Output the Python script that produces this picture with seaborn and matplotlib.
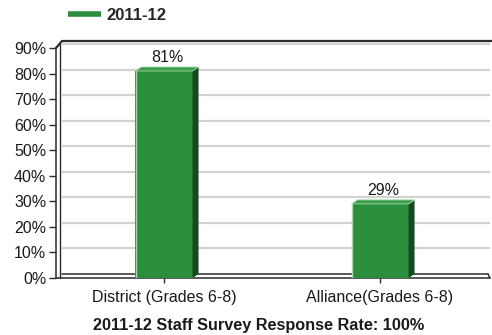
import matplotlib
matplotlib.use("Agg")
import matplotlib.pyplot as plt
from matplotlib.patches import Polygon
from matplotlib.lines import Line2D
import seaborn as sns

# Survey data
schools = ["District (Grades 6-8)", "Alliance(Grades 6-8)"]
rates = [81, 29]
year_label = "2011-12"
title_text = "2011-12 Staff Survey Response Rate: 100%"
y_ticks = [0, 10, 20, 30, 40, 50, 60, 70, 80, 90]

GREEN = "#2a8e3c"
GREEN_TOP = "#3a9c4a"
GREEN_SIDE = "#17481e"
GREEN_EDGE = "#a6d8a8"
FRAME = "#2b2b2b"
GRID = "#d2d2d2"
TEXT = "#1a1a1a"

sns.set_theme(style="white")
plt.rcParams["font.family"] = ["Liberation Sans", "DejaVu Sans"]

W, H = 492, 335
fig = plt.figure(figsize=(W / 100, H / 100), dpi=100)
ax_left, ax_bottom, ax_w, ax_h = 56, 57, 434, 230
ax = fig.add_axes([ax_left / W, ax_bottom / H, ax_w / W, ax_h / H])

sns.barplot(x=schools, y=rates, color=GREEN, saturation=1, width=0.264,
            linewidth=0, ax=ax, zorder=3)

xmin, xmax = -0.5, 1.509
ymin, ymax = 0, 90
ax.set_xlim(xmin, xmax)
ax.set_ylim(ymin, ymax)

# pixel -> data unit conversion for the depth effect
px_x = (xmax - xmin) / ax_w
px_y = (ymax - ymin) / ax_h
dx, dy = 6 * px_x, 4 * px_y

# back-wall gridlines, shifted by the depth offset
for t in y_ticks[1:]:
    ax.plot([xmin + dx, xmax], [t + dy, t + dy], color=GRID, lw=1.6,
            zorder=1, clip_on=False, solid_capstyle="butt")

# floor and frame
ax.plot([xmin + dx, xmax - 2 * px_x], [dy, dy], color=FRAME, lw=1.1, zorder=2, clip_on=False)
ax.plot([xmax - 2 * px_x, xmax], [dy, 0], color=FRAME, lw=1.1, zorder=2, clip_on=False)
ax.plot([xmin + dx * 0.6, xmin + dx * 0.6], [0, ymax + dy], color=FRAME, lw=1.0, zorder=2, clip_on=False)
ax.plot([xmin, xmin + dx, xmax + 2 * px_x], [ymax, ymax + 7 * px_y, ymax + 7 * px_y],
        color=FRAME, lw=1.6, zorder=2, clip_on=False)

# 3D faces for each bar, built from the bar geometry
for patch, val in zip(ax.patches, rates):
    x0 = patch.get_x()
    x1 = x0 + patch.get_width()
    h = patch.get_height()
    side = Polygon([(x1, 0), (x1, h), (x1 + dx, h + dy), (x1 + dx, dy)],
                   closed=True, facecolor=GREEN_SIDE, edgecolor="none", zorder=3)
    top = Polygon([(x0, h), (x1, h), (x1 + dx, h + dy), (x0 + dx, h + dy)],
                  closed=True, facecolor=GREEN_TOP, edgecolor=GREEN_EDGE, lw=0.6, zorder=4)
    ax.add_patch(side)
    ax.add_patch(top)
    ax.plot([x0 + 0.5 * px_x, x0 + 0.5 * px_x], [0, h], color=GREEN_EDGE, lw=1.0, zorder=4)
    ax.annotate(f"{val}%", (x0 + patch.get_width() / 2 + dx / 2, h + dy),
                xytext=(0, 1.5), textcoords="offset points", ha="center", va="bottom",
                fontsize=11.5, color=TEXT, zorder=5)

ax.set_yticks(y_ticks)
ax.set_yticklabels([f"{t}%" for t in y_ticks])
ax.tick_params(axis="y", length=5, width=1.0, color=FRAME, labelsize=11.5,
               labelcolor=TEXT, pad=2, left=True)
ax.tick_params(axis="x", length=3.6, width=1.0, color=FRAME, labelsize=11.5,
               labelcolor=TEXT, pad=5, bottom=True)

for s in ["top", "right"]:
    ax.spines[s].set_visible(False)
for s in ["left", "bottom"]:
    ax.spines[s].set_color(FRAME)
    ax.spines[s].set_linewidth(1.1)
ax.grid(False)
ax.set_xlabel(title_text, fontsize=11.7, fontweight="bold", color=TEXT)
ax.xaxis.set_label_coords(0.468, -0.175)
ax.set_ylabel("")

handle = Line2D([], [], color=GREEN, lw=4, solid_capstyle="butt")
fig.legend([handle], [year_label], loc="center left",
           bbox_to_anchor=(68 / W, 1 - 15 / H), frameon=False,
           handlelength=2.0, handletextpad=0.3, borderpad=0, borderaxespad=0,
           prop={"weight": "bold", "size": 12})

fig.savefig("out.png", dpi=100, facecolor="white")
